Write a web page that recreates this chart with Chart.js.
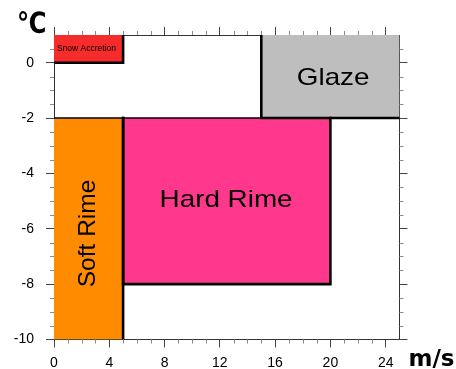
<!DOCTYPE html>
<html>
<head>
<meta charset="utf-8">
<script src="https://cdn.jsdelivr.net/npm/chart.js@4.4.1/dist/chart.umd.min.js"></script>
<style>
  html, body { margin: 0; padding: 0; background: #fff; }
  #wrap { width: 456px; height: 369px; }
</style>
</head>
<body>
<div id="wrap"><canvas id="c" width="456" height="369"></canvas></div>
<script>
// Icing regimes as a function of wind speed (m/s) and air temperature (°C)
const regimes  = ['Snow Accretion', 'Glaze', 'Hard Rime', 'Soft Rime'];
const windFrom = [0, 15, 5, 0];
const windTo   = [5, 25, 20, 5];
const tempFrom = [0, -2, -8, -10];
const tempTo   = [1, 1, -2, -2];
const regimeColors = ['rgb(246,44,44)', 'rgb(190,190,190)', 'rgb(255,56,141)', 'rgb(255,140,0)'];

// Where each regime name sits (data coordinates) and how it is set
const labelWind = [2.35, 20.2, 12.45, 2.33];
const labelTemp = [0.52, -0.51, -4.89, -6.17];
const labelSize = [8.5, 24, 24, 24.5];
const labelStretch = [1.0, 1.16, 1.16, 1.0];
const labelAngle = [0, 0, 0, -90];

const windTicks = [0, 4, 8, 12, 16, 20, 24];
const tempTicks = [-10, -8, -6, -4, -2, 0];
const windRange = [0, 25];
const tempRange = [-10, 1];

const FONT = '"Liberation Sans", Arial, Helvetica, sans-serif';

function boxCorners(i) {
  return [
    { x: windFrom[i], y: tempTo[i] },
    { x: windTo[i],   y: tempTo[i] },
    { x: windTo[i],   y: tempFrom[i] },
    { x: windFrom[i], y: tempFrom[i] },
    { x: windFrom[i], y: tempTo[i] }
  ];
}

// Box outline: edges lying on the plot frame are left to the frame itself,
// and the upper edge of the rime boxes is a lighter rule.
function edgeEnds(ctx) {
  const d = ctx.chart.data.datasets[ctx.datasetIndex].data;
  return [d[ctx.p0DataIndex], d[ctx.p1DataIndex]];
}
function edgeColor(ctx) {
  const [a, b] = edgeEnds(ctx);
  const onFrame =
    (a.x === b.x && (a.x === windRange[0] || a.x === windRange[1])) ||
    (a.y === b.y && (a.y === tempRange[0] || a.y === tempRange[1]));
  return onFrame ? 'rgba(0,0,0,0)' : '#000';
}
function edgeWidth(ctx) {
  const [a, b] = edgeEnds(ctx);
  const r = ctx.chart.data.datasets[ctx.datasetIndex].regime;
  const isTop = a.y === b.y && a.y === tempTo[r];
  return (isTop && (regimes[r] === 'Hard Rime' || regimes[r] === 'Soft Rime')) ? 1.5 : 2.6;
}

const outlines = regimes.map((name, i) => ({
  label: name + ' outline',
  regime: i,
  data: boxCorners(i),
  showLine: true,
  fill: false,
  borderColor: '#000',
  borderWidth: 2.6,
  borderJoinStyle: 'miter',
  borderCapStyle: 'square',
  segment: { borderColor: edgeColor, borderWidth: edgeWidth },
  pointRadius: 0,
  tension: 0,
  clip: 0
}));

const areas = regimes.map((name, i) => ({
  label: name,
  regime: i,
  data: boxCorners(i),
  showLine: true,
  fill: 'shape',
  backgroundColor: regimeColors[i],
  borderWidth: 0,
  borderColor: 'rgba(0,0,0,0)',
  pointRadius: 0,
  tension: 0,
  clip: 0
}));

// Minor tick marks on all four sides of the frame
const minorTicks = {
  id: 'minorTicks',
  afterDraw(chart) {
    const { ctx, chartArea: a, scales } = chart;
    const xs = scales.x, ys = scales.y;
    ctx.save();
    ctx.strokeStyle = '#8a8a8a';
    ctx.lineWidth = 1;
    ctx.beginPath();
    for (let v = windRange[0]; v < windRange[1]; v += 1) {
      if (windTicks.includes(v)) continue;
      const px = Math.round(xs.getPixelForValue(v)) + 0.5;
      ctx.moveTo(px, a.bottom); ctx.lineTo(px, a.bottom + 4);
      ctx.moveTo(px, a.top);    ctx.lineTo(px, a.top - 4);
    }
    for (let v = tempRange[0]; v < tempRange[1]; v += 0.5) {
      if (tempTicks.includes(v)) continue;
      const py = Math.round(ys.getPixelForValue(v)) + 0.5;
      ctx.moveTo(a.left, py);  ctx.lineTo(a.left - 4, py);
      ctx.moveTo(a.right, py); ctx.lineTo(a.right + 4, py);
    }
    ctx.stroke();
    ctx.restore();
  }
};

// Regime names inside the boxes, plus the axis unit labels
const annotations = {
  id: 'annotations',
  afterDatasetsDraw(chart) {
    const { ctx, scales } = chart;
    ctx.save();
    ctx.fillStyle = '#000';
    ctx.textAlign = 'center';
    ctx.textBaseline = 'alphabetic';
    regimes.forEach((name, i) => {
      const cx = scales.x.getPixelForValue(labelWind[i]);
      const cy = scales.y.getPixelForValue(labelTemp[i]);
      const s = labelSize[i];
      ctx.save();
      ctx.translate(cx, cy);
      ctx.rotate(labelAngle[i] * Math.PI / 180);
      ctx.scale(labelStretch[i], 1);
      ctx.font = s + 'px ' + FONT;
      ctx.fillText(name, 0, s * 0.716 / 2);
      ctx.restore();
    });
    ctx.restore();
  },
  afterDraw(chart) {
    const { ctx, chartArea: a } = chart;
    ctx.save();
    ctx.fillStyle = '#000';
    ctx.textBaseline = 'alphabetic';
    ctx.textAlign = 'left';
    ctx.save();
    ctx.translate(17, a.top - 2);
    ctx.scale(0.84, 1);
    ctx.font = 'bold 29px "DejaVu Sans", sans-serif';
    ctx.fillText('\u2103', 0, 0);
    ctx.restore();
    ctx.font = 'bold 23px "DejaVu Sans", sans-serif';
    ctx.fillText('m/s', a.right + 9, a.bottom + 26);
    ctx.restore();
  }
};

const majorGrid = {
  drawOnChartArea: false,
  drawTicks: true,
  tickLength: 8,
  color: '#444',
  lineWidth: 1
};
const frameBorder = { display: true, color: '#333', width: 1 };

new Chart(document.getElementById('c'), {
  type: 'scatter',
  data: { datasets: outlines.concat(areas) },
  options: {
    responsive: false,
    animation: false,
    devicePixelRatio: 1,
    layout: { padding: 0 },
    plugins: { legend: { display: false }, tooltip: { enabled: false } },
    scales: {
      x: {
        type: 'linear', position: 'bottom', z: 1,
        min: windRange[0], max: windRange[1],
        afterBuildTicks: s => { s.ticks = windTicks.map(v => ({ value: v })); },
        ticks: { color: '#000', font: { family: FONT, size: 14 }, padding: 7, maxRotation: 0, autoSkip: false },
        grid: majorGrid, border: frameBorder,
        afterFit: s => { s.height = 29.5; }
      },
      x2: {
        type: 'linear', position: 'top', z: 1,
        min: windRange[0], max: windRange[1],
        afterBuildTicks: s => { s.ticks = windTicks.map(v => ({ value: v })); },
        ticks: { display: false },
        grid: majorGrid, border: frameBorder,
        afterFit: s => { s.height = 35; }
      },
      y: {
        type: 'linear', position: 'left', z: 1,
        min: tempRange[0], max: tempRange[1],
        afterBuildTicks: s => { s.ticks = tempTicks.map(v => ({ value: v })); },
        ticks: { color: '#000', font: { family: FONT, size: 14 }, padding: 12, autoSkip: false },
        grid: majorGrid, border: frameBorder,
        afterFit: s => { s.width = 54; }
      },
      y2: {
        type: 'linear', position: 'right', z: 1,
        min: tempRange[0], max: tempRange[1],
        afterBuildTicks: s => { s.ticks = tempTicks.map(v => ({ value: v })); },
        ticks: { display: false },
        grid: majorGrid, border: frameBorder,
        afterFit: s => { s.width = 56.5; }
      }
    }
  },
  plugins: [minorTicks, annotations]
});
</script>
</body>
</html>
